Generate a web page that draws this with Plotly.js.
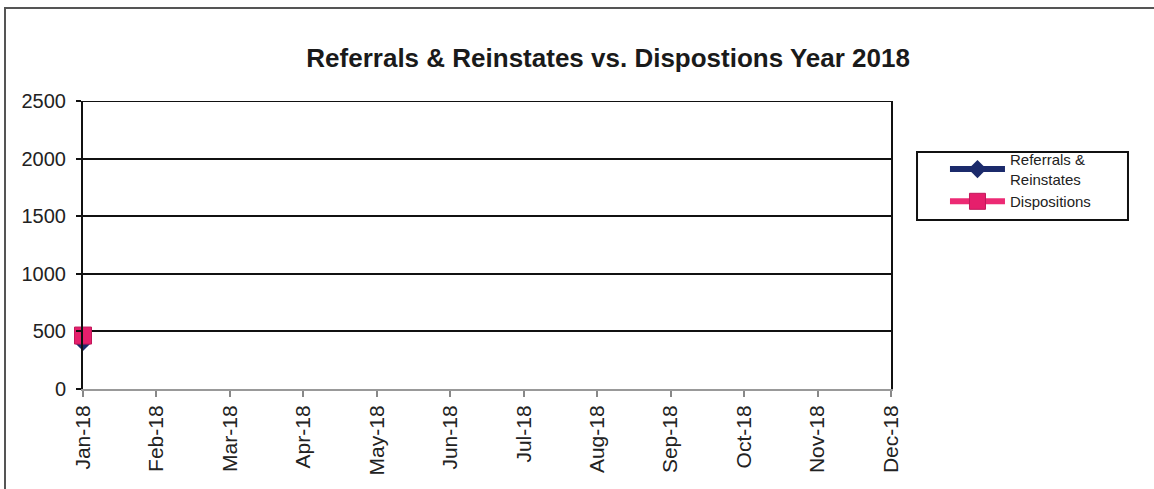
<!DOCTYPE html>
<html>
<head>
<meta charset="utf-8">
<script src="https://cdn.plot.ly/plotly-3.0.1.min.js"></script>
<style>
  html, body { margin: 0; padding: 0; background: #fff; }
  #frame { position: absolute; left: 4px; top: 7px; width: 1160px; height: 500px;
           border-left: 2px solid #555; border-top: 2px solid #555; }
  #chart { position: absolute; left: 0; top: 0; width: 1154px; height: 489px; }
</style>
</head>
<body>
<div id="frame"></div>
<div id="chart"></div>
<script>
const months = ["Jan-18","Feb-18","Mar-18","Apr-18","May-18","Jun-18","Jul-18","Aug-18","Sep-18","Oct-18","Nov-18","Dec-18"];
const referrals = [408, null, null, null, null, null, null, null, null, null, null, null];
const dispositions = [464, null, null, null, null, null, null, null, null, null, null, null];
const yTicks = [0, 500, 1000, 1500, 2000, 2500];

const traces = [
  {
    x: months, y: referrals, name: "Referrals &<br>Reinstates",
    type: "scatter", mode: "lines+markers", cliponaxis: false,
    line: { color: "#1b2a6b", width: 6 },
    marker: { symbol: "diamond", size: 14, color: "#1b2a6b" }
  },
  {
    x: months, y: dispositions, name: "Dispositions",
    type: "scatter", mode: "lines+markers", cliponaxis: false,
    line: { color: "#ec2a74", width: 6 },
    marker: { symbol: "square", size: 17, color: "#e61f6c", line: { color: "#c0185a", width: 1 } }
  }
];

const layout = {
  width: 1154, height: 489,
  paper_bgcolor: "rgba(0,0,0,0)", plot_bgcolor: "rgba(0,0,0,0)",
  margin: { l: 83, r: 263, t: 101, b: 100 },
  font: { family: "Liberation Sans, Arial, sans-serif", color: "#111" },
  title: {
    text: "<b>Referrals & Reinstates vs. Dispostions Year 2018</b>",
    font: { size: 26, color: "#1a1a1a" },
    x: 0.527, xanchor: "center", y: 0.881, yanchor: "middle"
  },
  showlegend: true,
  legend: {
    x: 1.0668, y: 0.854, xanchor: "left", yanchor: "top",
    borderwidth: 0, bgcolor: "rgba(0,0,0,0)",
    font: { size: 15, color: "#222" },
    tracegroupgap: 0, itemwidth: 55
  },
  shapes: [
    { type: "rect", xref: "paper", yref: "paper", x0: 1.0322, x1: 1.2933, y0: 0.5868, y1: 0.8229,
      line: { color: "#111", width: 2 }, fillcolor: "rgba(0,0,0,0)", layer: "below" },
    { type: "line", xref: "paper", yref: "y", x0: 0, x1: 1, y0: 2500, y1: 2500,
      line: { color: "#111", width: 2 } }
  ],
  xaxis: {
    type: "category", categoryorder: "array", categoryarray: months,
    range: [0, 11], showgrid: false, zeroline: false,
    showline: true, linecolor: "#999", linewidth: 2,
    ticks: "outside", ticklen: 6, tickcolor: "#888", tickwidth: 2,
    tickangle: -90, tickfont: { size: 21, color: "#222" }
  },
  yaxis: {
    range: [0, 2500], tickvals: yTicks, ticktext: yTicks.map(String),
    showgrid: true, gridcolor: "#111", gridwidth: 2,
    zeroline: false, showline: true, linecolor: "#111", linewidth: 2, mirror: true,
    ticks: "outside", ticklen: 5, tickcolor: "#111", tickwidth: 2,
    ticklabelstandoff: 6,
    tickfont: { size: 20, color: "#222" }
  }
};

Plotly.newPlot("chart", traces, layout, { displayModeBar: false, staticPlot: true });
</script>
</body>
</html>
